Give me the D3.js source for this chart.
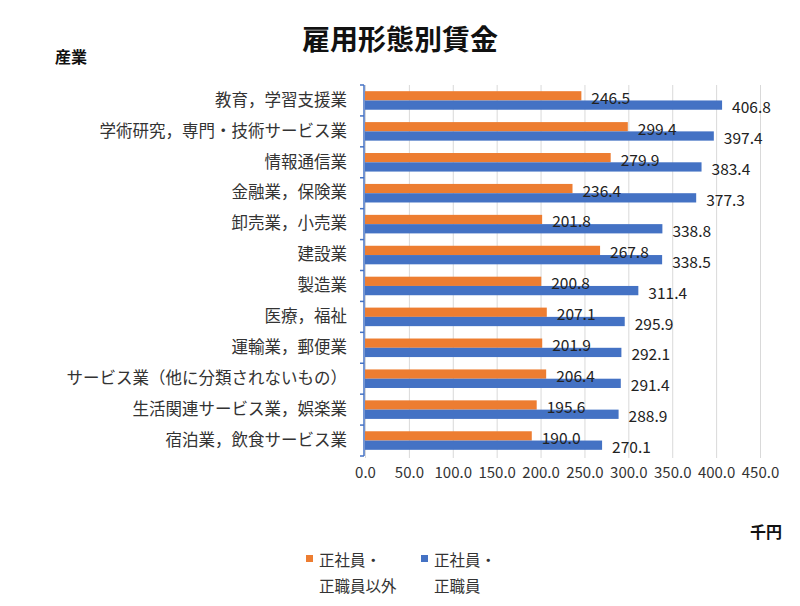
<!DOCTYPE html>
<html>
<head>
<meta charset="utf-8">
<script src="https://cdn.jsdelivr.net/npm/d3@7"></script>
<style>
  body { margin: 0; background: #fff; }
  text { font-family: "Noto Sans CJK JP", "Noto Sans", sans-serif; }
</style>
</head>
<body>
<div id="chart"></div>
<script>
// data, top row first
var industries = [
  "教育，学習支援業",
  "学術研究，専門・技術サービス業",
  "情報通信業",
  "金融業，保険業",
  "卸売業，小売業",
  "建設業",
  "製造業",
  "医療，福祉",
  "運輸業，郵便業",
  "サービス業（他に分類されないもの）",
  "生活関連サービス業，娯楽業",
  "宿泊業，飲食サービス業"
];
var nonRegular = [246.5, 299.4, 279.9, 236.4, 201.8, 267.8, 200.8, 207.1, 201.9, 206.4, 195.6, 190.0];
var regular    = [406.8, 397.4, 383.4, 377.3, 338.8, 338.5, 311.4, 295.9, 292.1, 291.4, 288.9, 270.1];
var seriesKeys = ["nonRegular", "regular"];
var seriesNames = [["正社員・", "正職員以外"], ["正社員・", "正職員"]];
var xTicks = [0, 50, 100, 150, 200, 250, 300, 350, 400, 450];

var width = 800, height = 606;
// note: "top" is a reserved window property, so use plot* names
var plotLeft = 365, plotRight = 760, plotTop = 85, plotBottom = 456;
var colors = { nonRegular: "#ED7D31", regular: "#4472C4" };

var rows = industries.map(function (name, i) {
  return { name: name, nonRegular: nonRegular[i], regular: regular[i] };
});

var svg = d3.select("#chart").append("svg")
  .attr("width", width)
  .attr("height", height);

var x = d3.scaleLinear().domain([0, 450]).range([plotLeft, plotRight]);

var y = d3.scaleBand()
  .domain(industries)
  .range([plotTop, plotBottom])
  .paddingInner(0.4)
  .paddingOuter(0.2);

var ySub = d3.scaleBand()
  .domain(seriesKeys)
  .range([0, y.bandwidth()]);

// gridlines
svg.append("g")
  .attr("class", "grid")
  .attr("transform", "translate(0," + (plotBottom + 2) + ")")
  .call(d3.axisBottom(x).tickValues(xTicks).tickSize(-(plotBottom + 2 - plotTop)).tickFormat(""))
  .call(function (g) {
    g.select(".domain").remove();
    g.selectAll("line").attr("stroke", "#d9d9d9").attr("stroke-width", 1);
  });

// x tick labels
svg.append("g")
  .attr("transform", "translate(0," + (plotBottom + 8) + ")")
  .call(d3.axisBottom(x).tickValues(xTicks).tickSize(0).tickFormat(d3.format(".1f")))
  .call(function (g) {
    g.select(".domain").remove();
    g.selectAll("text")
      .attr("font-size", "15px")
      .attr("fill", "#333")
      .attr("font-family", "\"Noto Sans CJK JP\", sans-serif");
  });

// bars
var groups = svg.append("g").selectAll("g")
  .data(rows)
  .enter()
  .append("g")
  .attr("transform", function (d) { return "translate(0," + y(d.name) + ")"; });

groups.selectAll("rect")
  .data(function (d) { return seriesKeys.map(function (k) { return { key: k, value: d[k] }; }); })
  .enter()
  .append("rect")
  .attr("x", x(0))
  .attr("y", function (d) { return ySub(d.key); })
  .attr("height", ySub.bandwidth())
  .attr("width", function (d) { return x(d.value) - x(0); })
  .attr("fill", function (d) { return colors[d.key]; });

groups.selectAll("text.val")
  .data(function (d) { return seriesKeys.map(function (k) { return { key: k, value: d[k] }; }); })
  .enter()
  .append("text")
  .attr("class", "val")
  .attr("x", function (d) { return x(d.value) + 10; })
  .attr("y", function (d) { return ySub(d.key) + ySub.bandwidth() / 2 + 1; })
  .attr("dominant-baseline", "central")
  .attr("font-size", "15.5px")
  .attr("fill", "#222")
  .text(function (d) { return d.value.toFixed(1); });

// left axis: labels at band centres, ticks on band boundaries
svg.append("g")
  .attr("transform", "translate(" + (plotLeft - 1) + ",0)")
  .call(d3.axisLeft(y).tickSize(0).tickPadding(17))
  .call(function (g) {
    g.select(".domain").remove();
    g.selectAll("text")
      .attr("font-size", "16.5px")
      .attr("fill", "#333")
      .attr("font-family", "\"Noto Sans CJK JP\", sans-serif");
  });

var step = y.step();
var bounds = d3.range(industries.length + 1).map(function (i) { return plotTop + i * step; });

svg.append("line")
  .attr("x1", plotLeft - 1).attr("x2", plotLeft - 1)
  .attr("y1", plotTop).attr("y2", plotBottom)
  .attr("stroke", "#4472C4").attr("stroke-width", 1.5);

svg.append("g").selectAll("line")
  .data(bounds)
  .enter()
  .append("line")
  .attr("x1", plotLeft - 5).attr("x2", plotLeft - 1)
  .attr("y1", function (d) { return d; })
  .attr("y2", function (d) { return d; })
  .attr("stroke", "#4472C4").attr("stroke-width", 1.5);

// title and unit labels
svg.append("text")
  .attr("x", 400).attr("y", 38)
  .attr("text-anchor", "middle")
  .attr("dominant-baseline", "central")
  .attr("font-size", "28px")
  .attr("font-weight", "bold")
  .attr("fill", "#111")
  .text("雇用形態別賃金");

svg.append("text")
  .attr("x", 55).attr("y", 56)
  .attr("dominant-baseline", "central")
  .attr("font-size", "16px")
  .attr("font-weight", "bold")
  .attr("fill", "#111")
  .text("産業");

svg.append("text")
  .attr("x", 750).attr("y", 531)
  .attr("dominant-baseline", "central")
  .attr("font-size", "16px")
  .attr("font-weight", "bold")
  .attr("fill", "#111")
  .text("千円");

// legend
var legendX = [306, 421];
var legend = svg.append("g").selectAll("g")
  .data(seriesKeys)
  .enter()
  .append("g")
  .attr("transform", function (d, i) { return "translate(" + legendX[i] + ",0)"; });

legend.append("rect")
  .attr("x", 0).attr("y", 555)
  .attr("width", 7).attr("height", 7)
  .attr("fill", function (d) { return colors[d]; });

legend.each(function (d, i) {
  var g = d3.select(this);
  seriesNames[i].forEach(function (line, j) {
    g.append("text")
      .attr("x", 13)
      .attr("y", 559 + j * 26)
      .attr("dominant-baseline", "central")
      .attr("font-size", "15.5px")
      .attr("fill", "#333")
      .text(line);
  });
});
</script>
</body>
</html>
